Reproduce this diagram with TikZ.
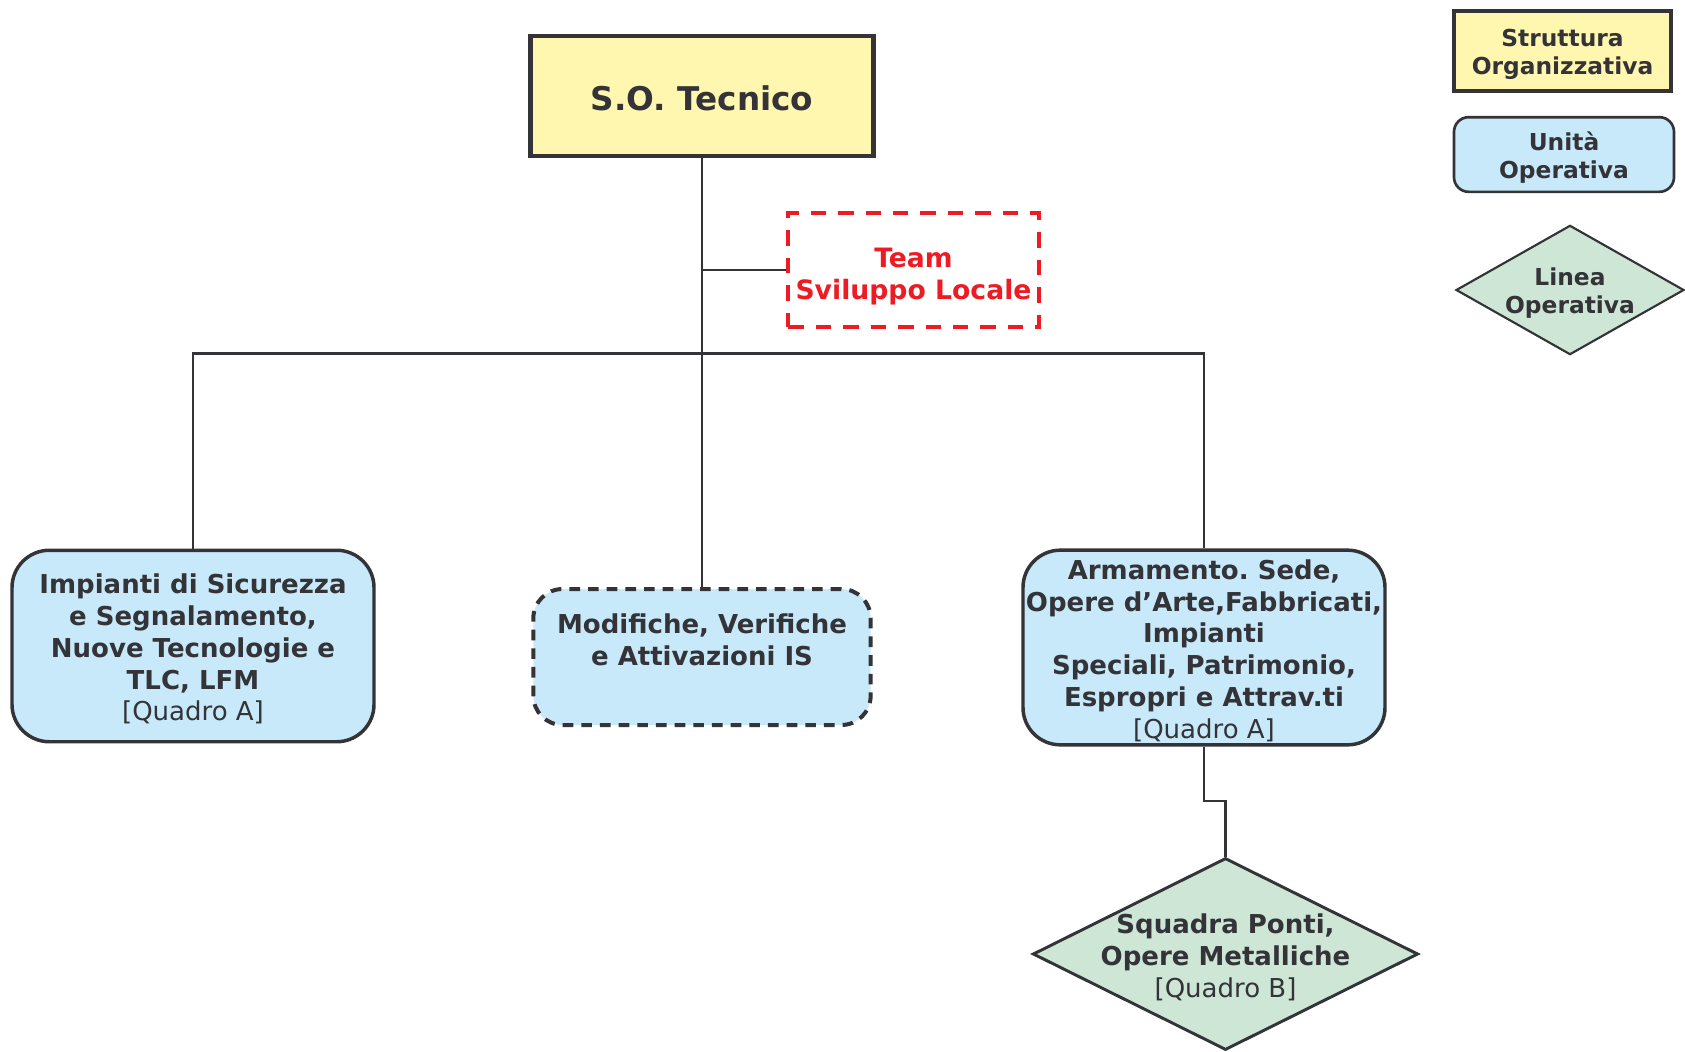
\documentclass[tikz,border=0pt]{standalone}
\usepackage{fontspec}
\setmainfont{DejaVu Sans}
\usepackage{tikz}
\usetikzlibrary{shapes.geometric}
\frenchspacing
\definecolor{inkgray}{RGB}{51,51,56}
\definecolor{strutfill}{RGB}{255,247,175}
\definecolor{unitfill}{RGB}{199,233,249}
\definecolor{lineafill}{RGB}{205,230,213}
\definecolor{teamred}{RGB}{237,28,36}
\newcommand{\quadro}[1]{{\mdseries[Quadro #1]}}
\newcommand{\drop}[1]{\rule{0pt}{#1}}
\tikzset{
    orgbox/.style={
        draw=inkgray, text=inkgray, align=center,
        inner sep=0pt,
        font=\bfseries\fontsize{19.5}{23.8}\selectfont
    },
    struttura/.style={orgbox, rectangle, fill=strutfill, line width=3.4pt},
    unita/.style={orgbox, rectangle, fill=unitfill, rounded corners=28pt, line width=2.6pt},
    linea/.style={orgbox, diamond, fill=lineafill, line width=2.2pt}
}

\begin{document}
\begin{tikzpicture}[
        x=0.75pt, y=-0.75pt,
        team/.style={
            orgbox, draw=teamred, text=teamred, line width=3.2pt,
            dash pattern=on 11.6pt off 9pt,
            font=\bfseries\fontsize{20}{24}\selectfont
        },
        legendtext/.style={font=\bfseries\fontsize{17.5}{21}\selectfont},
        lbl/.style={text=inkgray, align=center, inner sep=0pt,
            font=\bfseries\fontsize{19.5}{23.8}\selectfont},
        conn/.style={draw=inkgray, line width=1.6pt}
      ]
    \useasboundingbox (0,0) rectangle (1685,1051);

    \node[struttura, minimum width=257pt, minimum height=90pt,
          font=\bfseries\fontsize{24.5}{28}\selectfont] (SO) at (702,96) {\drop{22pt}S.O. Tecnico};
    \node[team, minimum width=188pt, minimum height=85pt] (TSL) at (913.5,270) {\drop{25pt}Team\\Sviluppo Locale};
    \node[unita, minimum width=271.5pt, minimum height=143.6pt] (ISS) at (193,646)
        {\drop{19.5pt}Impianti di Sicurezza\\e Segnalamento,\\Nuove Tecnologie e\\TLC, LFM\\\quadro{A}};
    \node[unita, minimum width=253pt, minimum height=102pt, rounded corners=22pt,
          line width=3pt, dash pattern=on 8pt off 6pt] (MVA) at (702,657)
        {\drop{19.5pt}Modifiche, Verifiche\\e Attivazioni IS\\\strut};
    \node[unita, minimum width=271.5pt, minimum height=146pt] (ARM) at (1204,647.5)
        {\drop{19.5pt}Armamento. Sede,\\Opere d’Arte,Fabbricati,\\Impianti\\Speciali, Patrimonio,\\Espropri e Attrav.ti\\\quadro{A}};
    \node[linea, minimum width=289pt, minimum height=144pt,
          label={[lbl]center:{\drop{19.5pt}Squadra Ponti,\\Opere Metalliche\\\quadro{B}}}] (SPO) at (1225.5,954) {};

    \node[struttura, legendtext, minimum width=163pt, minimum height=60pt, line width=3pt] (LS) at (1562.5,51) {\drop{18pt}Struttura\\Organizzativa};
    \node[unita, legendtext, minimum width=165pt, minimum height=56pt, rounded corners=11pt, line width=2pt] (LU) at (1564,154.5) {\drop{18pt}Unità\\Operativa};
    \node[linea, minimum width=171pt, minimum height=97pt, line width=1.6pt,
          label={[lbl, legendtext]center:{\drop{18pt}Linea\\Operativa}}] (LL) at (1570,290) {};

    \coordinate (BUS) at (702,353.5);
    \coordinate (JOG) at (1214,800.6);
    \draw[conn, line width=2pt] (SO.south) -- (MVA.north);
    \draw[conn] (SO.south |- TSL.west) -- (TSL.west);
    \draw[conn] (ISS.north) |- (BUS) -| (ARM.north);
    \draw[conn] (ARM.south) |- (JOG) -| (SPO.north);

\end{tikzpicture}
\end{document}
